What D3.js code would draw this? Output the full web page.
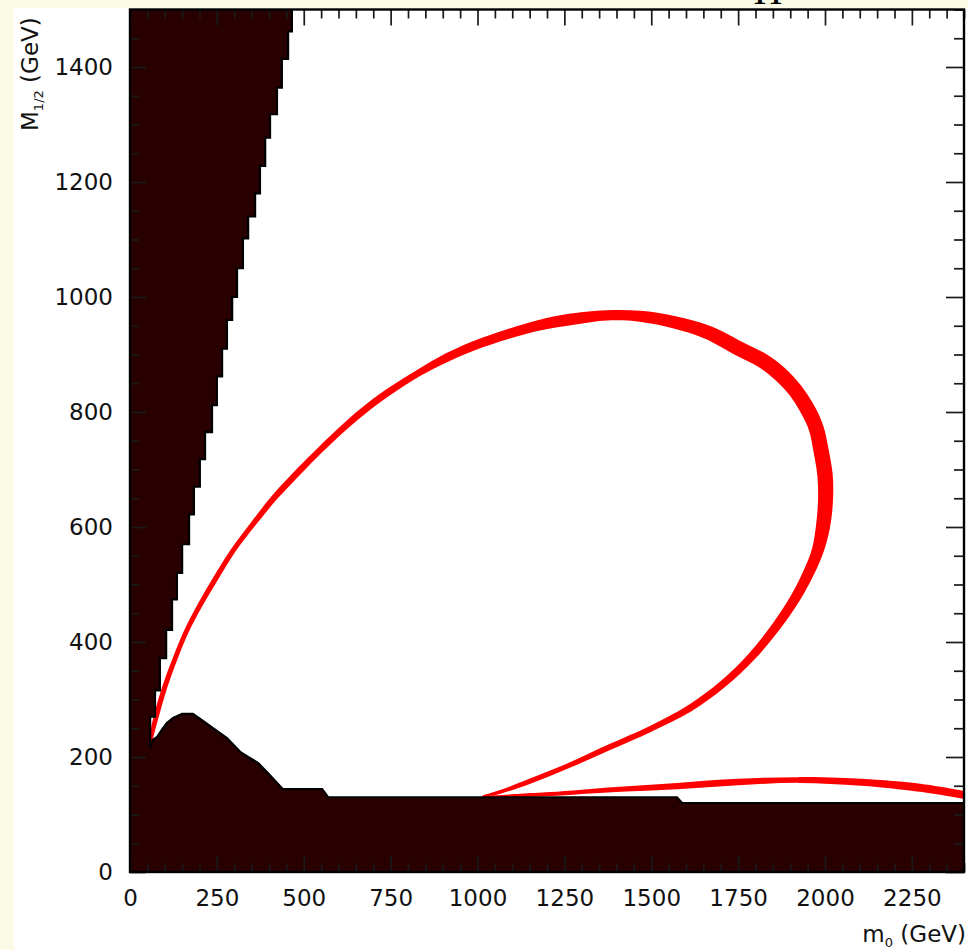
<!DOCTYPE html>
<html><head><meta charset="utf-8">
<script src="https://cdn.jsdelivr.net/npm/d3@7"></script>
<style>html,body{margin:0;padding:0;background:#fbfae4;} svg{display:block}</style>
</head><body>
<svg id="c" width="968" height="950"></svg>
<script>
// ---------- data (GeV) ----------
const xTickLabels = [0, 250, 500, 750, 1000, 1250, 1500, 1750, 2000, 2250];
const yTickLabels = [0, 200, 400, 600, 800, 1000, 1200, 1400];
const xMinorStep = 50, yMinorStep = 50;
const xDomain = [0, 2400], yDomain = [0, 1500];

// excluded wedge (upper left): staircase right edge
const wedgeTopM = [1500,1462,1414,1364,1318,1277,1228,1180,1140,1102,1050,1000,960,910,862,812,765,718,670,622,570,520,474,421,372,316,270];
const wedgeM0   = [466,455,437,423,403,389,374,360,340,325,308,294,279,265,250,236,216,201,184,170,150,135,121,104,86,72,58];
const wedgeTipM = 217;

// excluded floor region (bottom) upper edge
const floorM0 = [58,66,78,95,106,124,150,181,210,239,279,317,340,368,394,440,553,570,1574,1589,2400];
const floorM  = [217,230,235,250,259,268,275,275,263,250,233,209,200,190,174,144,144,130,130,120,120];

// relic-density band, main loop: outer and inner edges
const loopOuterM0 = [52,71,94,123,155,195,241,290,348,411,483,541,627,713,801,887,983,1081,1176,1255,1372,1469,1567,1668,1765,1833,1885,1931,1970,1995,2010,2022,2023,2014,1996,1971,1929,1870,1799,1713,1617,1500,1385,1269,1154,1066,1017];
const loopOuterM  = [227,278,325,372,419,466,514,561,608,656,703,738,787,829,864,895,922,943,960,970,977,976,967,950,921,900,876,846,810,776,736,692,646,598,557,521,474,422,371,322,280,244,213,182,154,136,128];
const loopInnerM0 = [63,85,108,136,168,208,254,302,360,424,496,553,639,725,811,897,991,1089,1183,1260,1373,1466,1559,1653,1746,1810,1856,1897,1932,1954,1967,1978,1980,1974,1963,1942,1904,1848,1781,1700,1606,1493,1378,1263,1149,1063,1014];
const loopInnerM  = [225,275,322,369,416,462,509,556,602,649,695,730,778,819,854,882,907,927,942,950,959,957,946,928,898,878,856,830,797,768,731,689,647,602,563,529,483,431,380,332,290,253,222,190,162,142,133];

// relic-density band, lower branch
const tailM0     = [1018,1122,1209,1399,1574,1750,1925,2104,2279,2400];
const tailUpperM = [132,136,139,148,155,162,165,162,153,141];
const tailLowerM = [129,130,132,139,144,151,155,150,139,127];

// ---------- layout ----------
const svg = d3.select("#c");
const L = 130, R = 964, T = 9.5, B = 872;
const x = d3.scaleLinear().domain(xDomain).range([L, R]);
const y = d3.scaleLinear().domain(yDomain).range([B, T]);

svg.append("rect").attr("x",0).attr("y",0).attr("width",968).attr("height",950).attr("fill","#fbfae4");
svg.append("rect").attr("x",14).attr("y",8).attr("width",954).attr("height",942).attr("fill","#ffffff");

// partially visible title glyph (cut off at the top, as in the original)
svg.append("text").attr("x",768).attr("y",4).attr("text-anchor","middle")
  .attr("font-family","Liberation Serif, serif").attr("font-size",40).attr("fill","#000").text("Π");

svg.append("defs").append("clipPath").attr("id","pc")
  .append("rect").attr("x",L).attr("y",T).attr("width",R-L).attr("height",B-T);
const g = svg.append("g").attr("clip-path","url(#pc)");

// red bands
const smooth = d3.line().x(d=>x(d[0])).y(d=>y(d[1])).curve(d3.curveCatmullRom.alpha(0.5));
function band(m0a, ma, m0b, mb) {
  const a = m0a.map((v,i)=>[v, ma[i]]);
  const b = m0b.map((v,i)=>[v, mb[i]]).reverse();
  return smooth(a) + "L" + smooth(b).slice(1) + "Z";
}
g.append("path").attr("d", band(loopOuterM0, loopOuterM, loopInnerM0, loopInnerM)).attr("fill","#ff0000");
g.append("path").attr("d", band(tailM0, tailUpperM, tailM0, tailLowerM)).attr("fill","#ff0000");

// excluded region
const pts = [[xDomain[0], yDomain[0]], [xDomain[0], yDomain[1]]];
wedgeM0.forEach((m0, i) => {
  const bottom = i < wedgeM0.length - 1 ? wedgeTopM[i+1] : wedgeTipM;
  pts.push([m0, wedgeTopM[i]]);
  pts.push([m0, bottom]);
});
floorM0.forEach((m0, i) => pts.push([m0, floorM[i]]));
pts.push([xDomain[1], yDomain[0]]);
const lin = d3.line().x(d=>x(d[0])).y(d=>y(d[1]));
g.append("path").attr("d", lin(pts) + "Z").attr("fill","#280000")
  .attr("stroke","#000").attr("stroke-width",2.2).attr("stroke-linejoin","miter");

// ticks
const xMinor = d3.range(xDomain[0], xDomain[1] + 1, xMinorStep).filter(v => v % 250 !== 0);
const yMinor = d3.range(yDomain[0], yDomain[1] + 1, yMinorStep).filter(v => v % 200 !== 0);
const font = "DejaVu Sans, sans-serif";
function styleAxis(sel) {
  sel.select(".domain").remove();
  sel.selectAll("line").attr("stroke","#1a1a1a").attr("stroke-width",1.7);
  sel.selectAll("text").attr("font-family",font).attr("font-size",23).attr("fill","#111");
}
const gx = svg.append("g").attr("transform",`translate(0,${B})`)
  .call(d3.axisBottom(x).tickValues(xTickLabels).tickSize(-16).tickPadding(18).tickFormat(d3.format("d")));
styleAxis(gx);
styleAxis(svg.append("g").attr("transform",`translate(0,${B})`).call(d3.axisBottom(x).tickValues(xMinor).tickSize(-9).tickFormat("")));
styleAxis(svg.append("g").attr("transform",`translate(0,${T})`).call(d3.axisTop(x).tickValues(xTickLabels).tickSize(-16).tickFormat("")));
styleAxis(svg.append("g").attr("transform",`translate(0,${T})`).call(d3.axisTop(x).tickValues(xMinor).tickSize(-9).tickFormat("")));
const gy = svg.append("g").attr("transform",`translate(${L},0)`)
  .call(d3.axisLeft(y).tickValues(yTickLabels).tickSize(-16).tickPadding(17).tickFormat(d3.format("d")));
styleAxis(gy);
styleAxis(svg.append("g").attr("transform",`translate(${L},0)`).call(d3.axisLeft(y).tickValues(yMinor).tickSize(-9).tickFormat("")));
styleAxis(svg.append("g").attr("transform",`translate(${R},0)`).call(d3.axisRight(y).tickValues(yTickLabels).tickSize(-18).tickFormat("")));
styleAxis(svg.append("g").attr("transform",`translate(${R},0)`).call(d3.axisRight(y).tickValues(yMinor).tickSize(-10).tickFormat("")));

// frame
svg.append("rect").attr("x",L).attr("y",T).attr("width",R-L).attr("height",B-T)
  .attr("fill","none").attr("stroke","#000").attr("stroke-width",2.4);

// axis titles
const xt = svg.append("text").attr("x",966).attr("y",942).attr("text-anchor","end")
  .attr("font-family",font).attr("font-size",23).attr("fill","#111");
xt.append("tspan").text("m");
xt.append("tspan").attr("font-size",13).attr("dy",5).text("0");
xt.append("tspan").attr("dy",-5).text(" (GeV)");

const yt = svg.append("text").attr("transform","translate(38,131) rotate(-90)")
  .attr("font-family",font).attr("font-size",23).attr("fill","#111");
yt.append("tspan").text("M");
yt.append("tspan").attr("font-size",13).attr("dy",5).text("1/2");
yt.append("tspan").attr("dy",-5).text(" (GeV)");
</script>
</body></html>
